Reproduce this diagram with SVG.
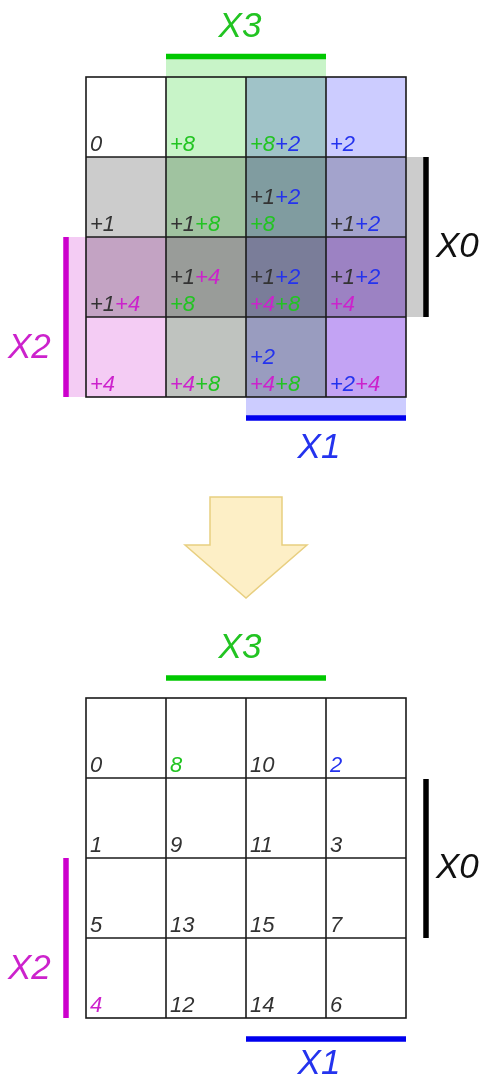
<svg xmlns="http://www.w3.org/2000/svg" width="484" height="1082" viewBox="0 0 484 1082">
<style>
  text { font-family: "Liberation Sans", Arial, sans-serif; font-style: italic; }
  .c { font-size: 22px; fill: #333333; }
  .lbl { font-size: 35px; }
  .k { fill: #333333; }
  .gr { fill: #22c422; }
  .bl { fill: #2433ee; }
  .mg { fill: #cc22cc; }
  .blk { fill: #111111; }
  .band { mix-blend-mode: multiply; }
  .grid { fill: none; stroke: #1a1a1a; stroke-width: 1.6; }
  .bar { stroke-width: 5.5; }
</style>
<rect x="0" y="0" width="484" height="1082" fill="#ffffff"/>

<g id="top-map">
  <g id="top-bands">
    <rect class="band" x="166" y="58" width="160" height="339" fill="#c8f4c8"/>
    <rect class="band" x="86" y="157" width="338" height="160" fill="#cccccc"/>
    <rect class="band" x="68" y="237" width="338" height="160" fill="#f4ccf4"/>
    <rect class="band" x="246" y="77" width="160" height="339" fill="#ccccff"/>
  </g>
  <g id="top-grid" class="grid">
    <rect x="86" y="77" width="320" height="320"/>
    <line x1="166" y1="77" x2="166" y2="397"/>
    <line x1="246" y1="77" x2="246" y2="397"/>
    <line x1="326" y1="77" x2="326" y2="397"/>
    <line x1="86" y1="157" x2="406" y2="157"/>
    <line x1="86" y1="237" x2="406" y2="237"/>
    <line x1="86" y1="317" x2="406" y2="317"/>
  </g>
  <g id="top-cells" class="c">
    <text x="90" y="151">0</text>
    <text x="170" y="151" class="gr">+8</text>
    <text x="250" y="151"><tspan class="gr">+8</tspan><tspan class="bl">+2</tspan></text>
    <text x="330" y="151" class="bl">+2</text>

    <text x="90" y="231">+1</text>
    <text x="170" y="231"><tspan class="k">+1</tspan><tspan class="gr">+8</tspan></text>
    <text x="250" y="204"><tspan class="k">+1</tspan><tspan class="bl">+2</tspan></text>
    <text x="250" y="231" class="gr">+8</text>
    <text x="330" y="231"><tspan class="k">+1</tspan><tspan class="bl">+2</tspan></text>

    <text x="90" y="311"><tspan class="k">+1</tspan><tspan class="mg">+4</tspan></text>
    <text x="170" y="284"><tspan class="k">+1</tspan><tspan class="mg">+4</tspan></text>
    <text x="170" y="311" class="gr">+8</text>
    <text x="250" y="284"><tspan class="k">+1</tspan><tspan class="bl">+2</tspan></text>
    <text x="250" y="311"><tspan class="mg">+4</tspan><tspan class="gr">+8</tspan></text>
    <text x="330" y="284"><tspan class="k">+1</tspan><tspan class="bl">+2</tspan></text>
    <text x="330" y="311" class="mg">+4</text>

    <text x="90" y="391" class="mg">+4</text>
    <text x="170" y="391"><tspan class="mg">+4</tspan><tspan class="gr">+8</tspan></text>
    <text x="250" y="364" class="bl">+2</text>
    <text x="250" y="391"><tspan class="mg">+4</tspan><tspan class="gr">+8</tspan></text>
    <text x="330" y="391"><tspan class="bl">+2</tspan><tspan class="mg">+4</tspan></text>
  </g>
  <g id="top-x3">
    <line class="bar" x1="166" y1="56.5" x2="326" y2="56.5" stroke="#00c800"/>
    <text class="lbl gr" x="240" y="37" text-anchor="middle">X3</text>
  </g>
  <g id="top-x0">
    <line class="bar" x1="426" y1="157" x2="426" y2="317" stroke="#000000"/>
    <text class="lbl blk" x="436" y="257">X0</text>
  </g>
  <g id="top-x2">
    <line class="bar" x1="66" y1="237" x2="66" y2="397" stroke="#cc00cc"/>
    <text class="lbl mg" x="8" y="358">X2</text>
  </g>
  <g id="top-x1">
    <line class="bar" x1="246" y1="418" x2="406" y2="418" stroke="#0000ee"/>
    <text class="lbl bl" x="319" y="458" text-anchor="middle">X1</text>
  </g>
</g>

<g id="arrow">
  <path d="M210,497 L282,497 L282,545 L307,545 L246,598 L185,545 L210,545 Z" fill="#fdefc6" stroke="#e8cf80" stroke-width="1.5" stroke-linejoin="miter"/>
</g>

<g id="bottom-map">
  <g id="bottom-grid" class="grid">
    <rect x="86" y="698" width="320" height="320"/>
    <line x1="166" y1="698" x2="166" y2="1018"/>
    <line x1="246" y1="698" x2="246" y2="1018"/>
    <line x1="326" y1="698" x2="326" y2="1018"/>
    <line x1="86" y1="778" x2="406" y2="778"/>
    <line x1="86" y1="858" x2="406" y2="858"/>
    <line x1="86" y1="938" x2="406" y2="938"/>
  </g>
  <g id="bottom-cells" class="c">
    <text x="90" y="772">0</text>
    <text x="170" y="772" class="gr">8</text>
    <text x="250" y="772">10</text>
    <text x="330" y="772" class="bl">2</text>
    <text x="90" y="852">1</text>
    <text x="170" y="852">9</text>
    <text x="250" y="852">11</text>
    <text x="330" y="852">3</text>
    <text x="90" y="932">5</text>
    <text x="170" y="932">13</text>
    <text x="250" y="932">15</text>
    <text x="330" y="932">7</text>
    <text x="90" y="1012" class="mg">4</text>
    <text x="170" y="1012">12</text>
    <text x="250" y="1012">14</text>
    <text x="330" y="1012">6</text>
  </g>
  <g id="bottom-x3">
    <line class="bar" x1="166" y1="678" x2="326" y2="678" stroke="#00c800"/>
    <text class="lbl gr" x="240" y="658" text-anchor="middle">X3</text>
  </g>
  <g id="bottom-x0">
    <line class="bar" x1="426" y1="779" x2="426" y2="938" stroke="#000000"/>
    <text class="lbl blk" x="436" y="878">X0</text>
  </g>
  <g id="bottom-x2">
    <line class="bar" x1="66" y1="858" x2="66" y2="1018" stroke="#cc00cc"/>
    <text class="lbl mg" x="8" y="979">X2</text>
  </g>
  <g id="bottom-x1">
    <line class="bar" x1="246" y1="1039" x2="406" y2="1039" stroke="#0000ee"/>
    <text class="lbl bl" x="319" y="1074" text-anchor="middle">X1</text>
  </g>
</g>
</svg>
